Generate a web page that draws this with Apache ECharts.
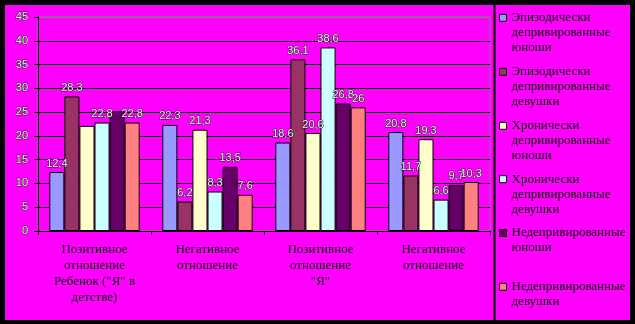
<!DOCTYPE html>
<html><head><meta charset="utf-8">
<script src="https://cdn.jsdelivr.net/npm/echarts@6/dist/echarts.min.js"></script>
<style>html,body{margin:0;padding:0;background:#000}#c{width:635px;height:324px}</style>
</head><body><div id="c"></div>
<script>
const categories = ['Позитивное\nотношение\nРебенок ("Я" в\nдетстве)', 'Негативное\nотношение', 'Позитивное\nотношение\n"Я"', 'Негативное\nотношение'];
const seriesNames = ['Эпизодически депривированные юноши', 'Эпизодически депривированные девушки', 'Хронически депривированные юноши', 'Хронически депривированные девушки', 'Недепривированные юноши', 'Недепривированные девушки'];
const legendLines = ['Эпизодически\nдепривированные\nюноши', 'Эпизодически\nдепривированные\nдевушки', 'Хронически\nдепривированные\nюноши', 'Хронически\nдепривированные\nдевушки', 'Недепривированные\nюноши', 'Недепривированные\nдевушки'];
const epiBoys = [12.4, 22.3, 18.6, 20.8];
const epiGirls = [28.3, 6.2, 36.1, 11.7];
const chrBoys = [22.1, 21.3, 20.6, 19.3];
const chrGirls = [22.8, 8.3, 38.6, 6.6];
const nonBoys = [25.2, 13.5, 26.8, 9.7];
const nonGirls = [22.8, 7.6, 26.0, 10.3];
const hiddenLabels = [[2, 0], [4, 0]];
const yMin = 0, yMax = 45, yStep = 5;

const allValues = [epiBoys, epiGirls, chrBoys, chrGirls, nonBoys, nonGirls];
const colors = ['#9999FF', '#993366', '#FFFFCC', '#CCFFFF', '#660066', '#FF8080'];
const iconCenters = [17.8, 71.8, 125.8, 179.2, 233, 286.8];

const numLabel = {color: '#f4f4f4', textBorderColor: '#222', textBorderWidth: 1, fontFamily: 'Liberation Sans', fontSize: 11};

const series = allValues.map((vals, si) => ({
  name: seriesNames[si], type: 'bar', barGap: '0%', barCategoryGap: '20%',
  itemStyle: {color: colors[si], borderColor: '#000', borderWidth: 1},
  label: Object.assign({show: true, position: 'top', distance: 3,
    formatter: p => String(p.value).replace('.', ',')}, numLabel),
  data: vals.map((v, ci) => {
    const hide = hiddenLabels.some(h => h[0] === si && h[1] === ci);
    return hide ? {value: v, label: {show: false}} : v;
  })
}));

const LH = 15;
const legends = seriesNames.map((n, i) => {
  const lines = legendLines[i].split('\n');
  const blanks = lines.length - 1;
  const text = '\u00a0\n'.repeat(blanks) + lines.join('\n');
  const total = lines.length + blanks;
  return {
    data: [n], left: 499, top: iconCenters[i] - total * LH / 2, padding: 0,
    orient: 'vertical', icon: 'rect', itemWidth: 7, itemHeight: 7, itemGap: 0,
    selectedMode: false,
    itemStyle: {borderColor: '#000', borderWidth: 1},
    formatter: () => text,
    textStyle: {color: '#000', fontFamily: 'Liberation Serif', fontSize: 13, lineHeight: LH}
  };
});

const splitColors = [];
for (let v = yMin; v <= yMax; v += yStep) splitColors.push(v === yMax ? '#808080' : '#000');

const chart = echarts.init(document.getElementById('c'));
chart.setOption({
  animation: false,
  backgroundColor: '#000',
  graphic: [
    {type: 'rect', z: -10, shape: {x: 5, y: 5, width: 625, height: 315}, style: {fill: '#FF00FF'}, silent: true},
    {type: 'line', z: 10, shape: {x1: 494.5, y1: 5, x2: 494.5, y2: 320}, style: {stroke: '#000', lineWidth: 2}, silent: true}
  ],
  grid: {left: 38, top: 17, right: 145, bottom: 93, show: true, borderColor: '#808080', borderWidth: 1, backgroundColor: 'transparent'},
  legend: legends,
  xAxis: {
    type: 'category', data: categories,
    axisLine: {lineStyle: {color: '#000', width: 1}},
    axisTick: {show: true, length: 4, lineStyle: {color: '#000'}},
    axisLabel: {color: '#000', fontFamily: 'Liberation Serif', fontSize: 13, lineHeight: 16, margin: 11, interval: 0}
  },
  yAxis: {
    type: 'value', min: yMin, max: yMax, interval: yStep,
    axisLine: {show: true, lineStyle: {color: '#000', width: 1}},
    axisTick: {show: true, length: 4, lineStyle: {color: '#000'}},
    splitLine: {show: true, lineStyle: {color: splitColors, width: 1}},
    axisLabel: Object.assign({margin: 10}, numLabel)
  },
  series: series
});
</script></body></html>
